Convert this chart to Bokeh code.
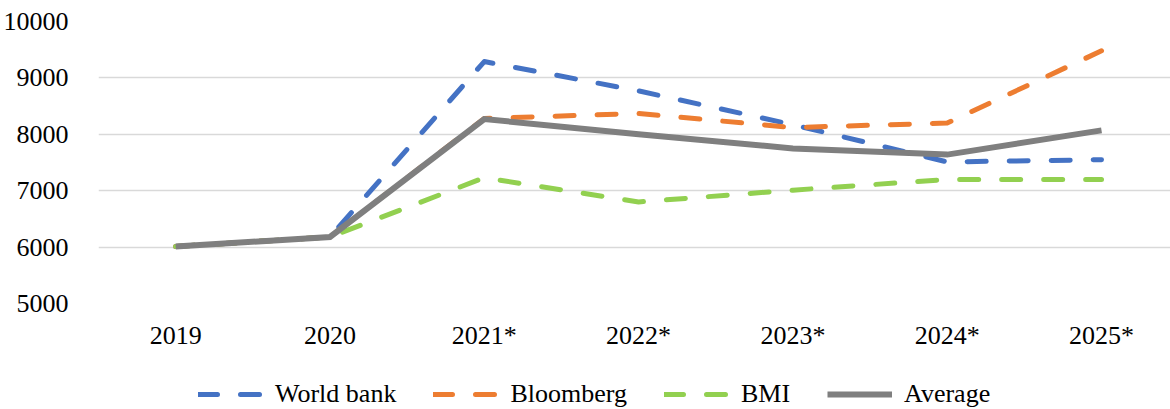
from bokeh.plotting import figure
from bokeh.models import FixedTicker, Legend, LegendItem
from bokeh.layouts import column
from bokeh.embed import file_html
from bokeh.resources import INLINE

# ---- data ----
years = ["2019", "2020", "2021*", "2022*", "2023*", "2024*", "2025*"]
world_bank = [6010, 6180, 9290, 8770, 8170, 7510, 7550]
bloomberg = [6010, 6180, 8280, 8370, 8120, 8200, 9480]
bmi = [6010, 6180, 7230, 6800, 7010, 7200, 7200]
average = [6010, 6180, 8270, 8000, 7750, 7640, 8070]
y_ticks = [5000, 6000, 7000, 8000, 9000, 10000]
series_names = ["World bank", "Bloomberg", "BMI", "Average"]

FONT = "Liberation Serif"
FS = "26px"

p = figure(width=1170, height=352, output_backend="svg", toolbar_location=None,
           x_range=(-0.5, 6.447), y_range=(5000, 10000),
           min_border_left=98, min_border_right=0, min_border_top=21,
           min_border_bottom=47)
p.outline_line_color = None
p.background_fill_color = "white"
p.border_fill_color = "white"

xs = list(range(len(years)))

# axes
p.xaxis.ticker = FixedTicker(ticks=xs)
p.xaxis.major_label_overrides = {i: y for i, y in enumerate(years)}
p.yaxis.ticker = FixedTicker(ticks=y_ticks)
for ax in (p.xaxis, p.yaxis):
    ax.axis_line_color = None
    ax.major_tick_line_color = None
    ax.minor_tick_line_color = None
    ax.major_label_text_font = FONT
    ax.major_label_text_font_size = FS
    ax.major_label_text_color = "#000000"
p.xaxis.major_label_standoff = 11
p.yaxis.major_label_standoff = 24
p.xgrid.grid_line_color = None
p.ygrid.grid_line_color = "#d9d9d9"
p.ygrid.grid_line_width = 1.3

DASH = "19 23"
LW = 5
colors = ["#4472C4", "#ED7D31", "#92D050", "#7F7F7F"]
values = [world_bank, bloomberg, bmi, average]

# legend-only figure underneath the chart
lg = figure(width=1170, height=57, output_backend="svg", toolbar_location=None,
            x_axis_type=None, y_axis_type=None, x_range=(0, 1), y_range=(0, 1),
            min_border=0)
lg.outline_line_color = None
lg.grid.visible = False
lg.background_fill_color = "white"
lg.border_fill_color = "white"

nan = float("nan")
items = []
for i, (name, vals, col) in enumerate(zip(series_names, values, colors)):
    if i < 3:
        style = dict(line_color=col, line_width=LW, line_dash=DASH,
                     line_cap="round", line_join="round")
    else:
        style = dict(line_color=col, line_width=6, line_join="miter")
    p.line(x=xs, y=vals, **style)
    r = lg.line(x=[nan, nan], y=[nan, nan], **style)
    items.append(LegendItem(label=name, renderers=[r]))

legend = Legend(items=items, orientation="horizontal", location=(100, 0),
                glyph_width=65, glyph_height=28, label_standoff=12, spacing=37,
                padding=0, margin=0, border_line_color=None,
                background_fill_alpha=0,
                label_text_font=FONT, label_text_font_size=FS,
                label_text_color="#000000")
lg.add_layout(legend, "center")

layout = column(p, lg, spacing=0)
open("out.html", "w").write(file_html(layout, INLINE))
